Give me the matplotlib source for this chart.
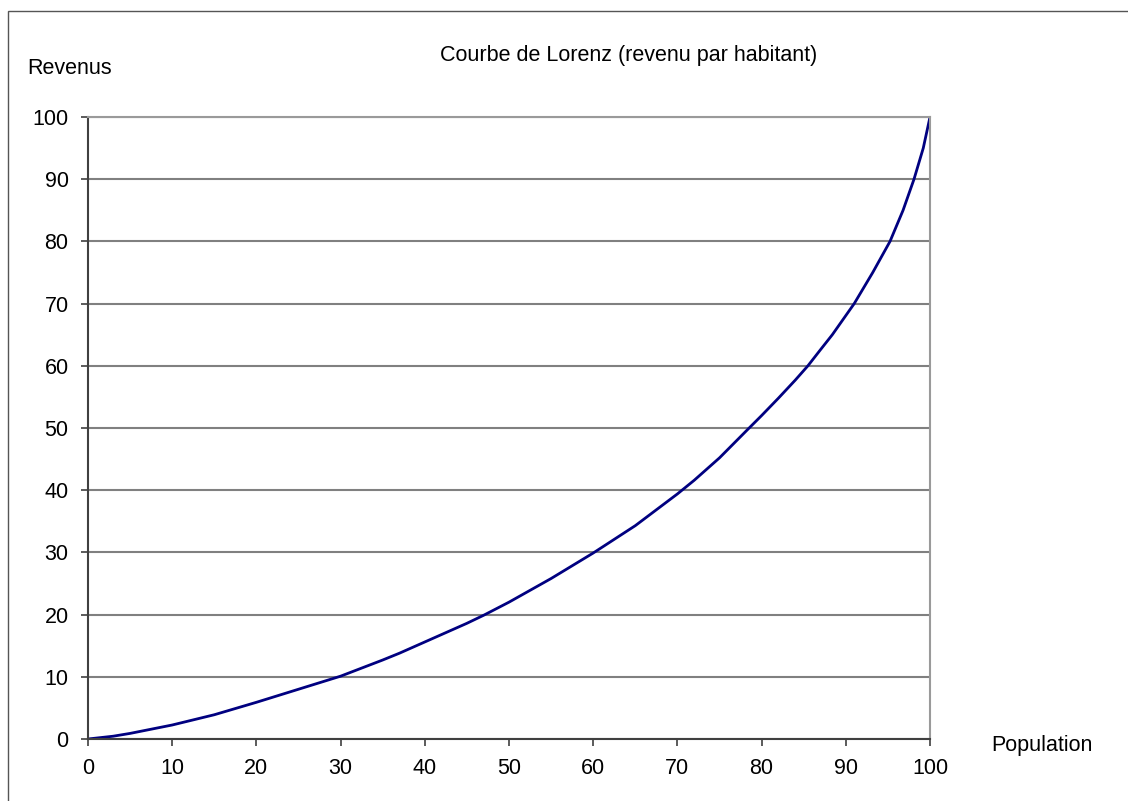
import matplotlib.pyplot as plt
from matplotlib.patches import Rectangle

plt.rcParams["font.family"] = ["Liberation Sans", "DejaVu Sans"]

# cumulative population share (%) vs cumulative income share (%)
population = [0, 3, 5, 10, 15, 20, 25, 30, 35, 37, 40, 45, 47, 50, 55, 60,
              65, 70, 72, 75, 78.3, 80, 82, 84, 85.5, 87, 88.4, 91, 93.2,
              95.25, 96.8, 98.1, 99.2, 100]
revenus = [0, 0.45, 0.9, 2.25, 3.9, 5.9, 8.0, 10.1, 12.7, 13.8, 15.6, 18.6,
           19.9, 22.0, 25.8, 29.9, 34.3, 39.4, 41.6, 45.2, 49.7, 52.0, 54.8,
           57.7, 60.0, 62.6, 65.0, 70.0, 75.0, 80.0, 85.0, 90.0, 95.0, 100.0]

W, H = 1128, 801
fig = plt.figure(figsize=(W / 100, H / 100), dpi=100)
fig.patches.append(Rectangle((8 / W, -0.1), 1.2, 1 - 11 / H + 0.1,
                             transform=fig.transFigure, fill=False,
                             edgecolor="#555555", linewidth=1.0))

ax = fig.add_axes([88 / W, 1 - 739 / H, (930 - 88) / W, (739 - 117) / H])
ax.plot(population, revenus, color="#000080", linewidth=2,
        solid_joinstyle="round")

ax.set_xlim(0, 100)
ax.set_ylim(0, 100)
ax.set_xticks(range(0, 101, 10))
ax.set_yticks(range(0, 101, 10))
ax.yaxis.grid(True, color="#808080", linewidth=1.5)
ax.set_axisbelow(True)
for side in ["top", "right"]:
    ax.spines[side].set_color("#9a9a9a")
    ax.spines[side].set_linewidth(1.5)
for side in ["left", "bottom"]:
    ax.spines[side].set_color("#404040")
    ax.spines[side].set_linewidth(1.5)
ax.tick_params(direction="out", length=5, width=1.2, color="#404040",
               labelsize=15.5, pad=9)

fig.text(629 / W, 1 - 55 / H, "Courbe de Lorenz (revenu par habitant)",
         ha="center", va="center", fontsize=15.5)
fig.text(27 / W, 1 - 68 / H, "Revenus", ha="left", va="center", fontsize=15.5)
fig.text(991 / W, 1 - 745 / H, "Population", ha="left", va="center",
         fontsize=15.5)

fig.savefig("out.png", dpi=100)
